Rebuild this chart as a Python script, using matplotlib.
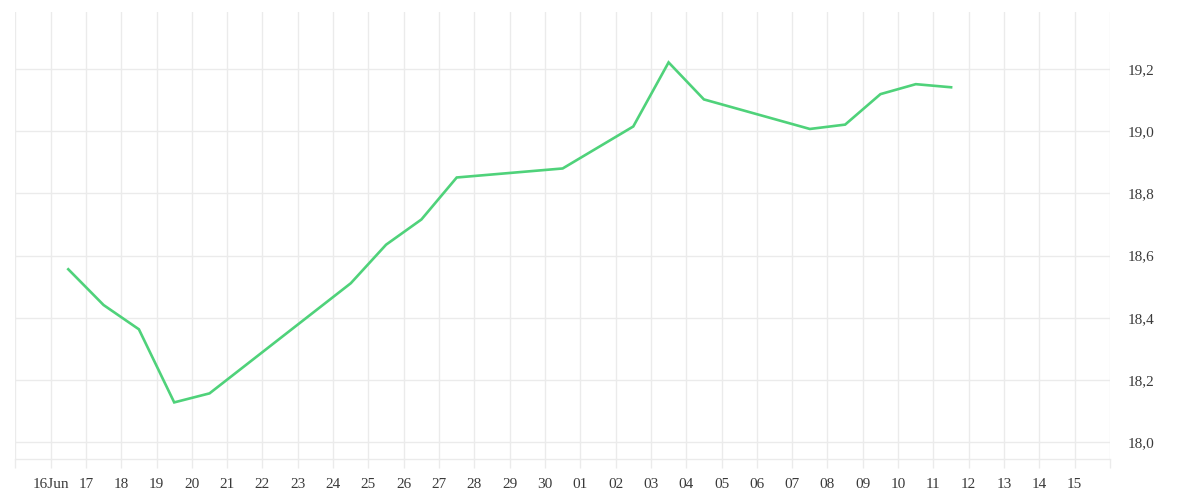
import datetime as dt
import matplotlib
matplotlib.use('Agg')
import matplotlib.pyplot as plt
import matplotlib.dates as mdates
from matplotlib.ticker import FuncFormatter, FixedLocator

# data (one value per day, plotted at midday)
dates = ['2023-06-16', '2023-06-17', '2023-06-18', '2023-06-19', '2023-06-20',
         '2023-06-24', '2023-06-25', '2023-06-26', '2023-06-27', '2023-06-30',
         '2023-07-02', '2023-07-03', '2023-07-04', '2023-07-07', '2023-07-08',
         '2023-07-09', '2023-07-10', '2023-07-11']
values = [18.556, 18.441, 18.363, 18.128, 18.157,
          18.511, 18.635, 18.716, 18.851, 18.880,
          19.015, 19.221, 19.102, 19.007, 19.021,
          19.119, 19.151, 19.141]
y_ticks = [18.0, 18.2, 18.4, 18.6, 18.8, 19.0, 19.2]

grid_col = '#ebebeb'
text_col = '#3a3a3a'
line_col = '#4fd27a'

plt.rcParams['font.family'] = ['Liberation Serif', 'DejaVu Serif']

x = [dt.datetime.strptime(d, '%Y-%m-%d') + dt.timedelta(hours=12) for d in dates]

fig = plt.figure(figsize=(12, 5), dpi=100)
ax = fig.add_axes([0.01275, 0.0826, 0.925 - 0.01275, 0.976 - 0.0826])

ax.plot(x, values, color=line_col, linewidth=1.9, solid_joinstyle='miter', zorder=3)

start = dt.datetime(2023, 6, 15)
end = dt.datetime(2023, 7, 16)
ax.set_xlim(start, end)
ax.set_ylim(17.947, 19.383)

days = [start + dt.timedelta(days=i) for i in range((end - start).days + 1)]
ax.xaxis.set_major_locator(FixedLocator(mdates.date2num(days)))


def fmt_day(v, pos):
    d = mdates.num2date(v).replace(tzinfo=None)
    if d == start or d == end:
        return ''
    if d == dt.datetime(2023, 6, 16):
        return '16Jun'
    return d.strftime('%d')


ax.xaxis.set_major_formatter(FuncFormatter(fmt_day))
ax.set_yticks(y_ticks)
ax.yaxis.set_major_formatter(FuncFormatter(lambda v, p: f'{v:.1f}'.replace('.', ',')))
ax.yaxis.tick_right()

ax.grid(True, color=grid_col, linewidth=1)
ax.set_axisbelow(True)
ax.tick_params(axis='x', length=6.5, color=grid_col, width=1, labelsize=11,
               labelcolor=text_col, pad=7.5)
ax.tick_params(axis='y', length=0, labelsize=11, labelcolor=text_col, pad=13)

for side in ['top', 'left', 'right']:
    ax.spines[side].set_visible(False)
ax.spines['bottom'].set_color(grid_col)
ax.spines['bottom'].set_linewidth(1)

fig.savefig('out.png', dpi=100)
